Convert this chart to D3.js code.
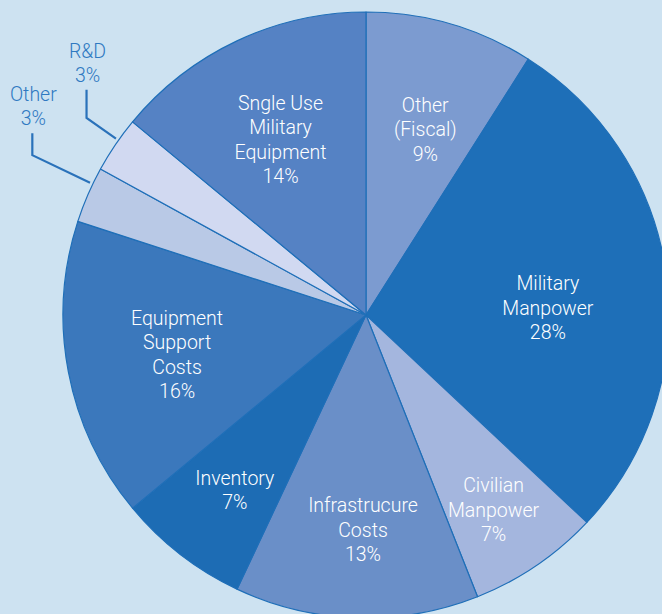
<!DOCTYPE html>
<html>
<head>
<meta charset="utf-8">
<script src="https://cdn.jsdelivr.net/npm/d3@7"></script>
<style>
  html, body { margin: 0; padding: 0; background: #cde2f1; }
  svg { display: block; }
  text { font-family: Roboto, "Liberation Sans", Arial, sans-serif; font-weight: 300; font-size: 19.5px; }
  .inner { fill: #ffffff; }
  .outer { fill: #2f79c1; }
</style>
</head>
<body>
<svg></svg>
<script>
// slices, clockwise from 12 o'clock
const labels = [
  ["Other", "(Fiscal)"],
  ["Military", "Manpower"],
  ["Civilian", "Manpower"],
  ["Infrastrucure", "Costs"],
  ["Inventory"],
  ["Equipment", "Support", "Costs"],
  ["Other"],
  ["R&D"],
  ["Sngle Use", "Military", "Equipment"]
]
const values = [9, 28, 7, 13, 7, 16, 3, 3, 14]
const colors = ["#7c9bd0", "#1e6fb8", "#a4b6de", "#6a8fc8", "#1d6cb4",
                "#3b78bc", "#b9c9e6", "#d1d9f1", "#5582c4"]

// label layout: distance from centre, angle nudge (deg), outside or not
const labelRadius = [195, 182, 233, 215, 219, 193, 370, 342, 195]
const labelShift = [1.5, 5, 1, -1, -1, -1, 2.2, 1, -0.8]
const outside = [false, false, false, false, false, false, true, true, false]
const leaderLen = [0, 0, 0, 0, 0, 0, 22, 28, 0]

const W = 662, H = 614
const cx = 366, cy = 315, R = 303
const lineH = 24.5

const svg = d3.select("svg")
    .attr("width", W)
    .attr("height", H)

const pie = d3.pie()
    .sort(null)
    .value(d => d)

const arc = d3.arc()
    .innerRadius(0)
    .outerRadius(R)

const arcs = pie(values)

const g = svg.append("g")
    .attr("transform", `translate(${cx},${cy})`)

g.selectAll("path.slice")
    .data(arcs)
    .enter()
    .append("path")
    .attr("class", "slice")
    .attr("d", arc)
    .style("fill", (d, i) => colors[i])
    .style("stroke", "#1f6fb8")
    .style("stroke-width", 1.2)
    .style("stroke-linejoin", "round")

const polar = (ang, r) => [r * Math.sin(ang), -r * Math.cos(ang)]
const midAngle = (d, i) => (d.startAngle + d.endAngle) / 2 + labelShift[i] * Math.PI / 180

arcs.forEach((d, i) => {
    const lines = labels[i].concat([values[i] + "%"])
    if (!outside[i]) {
        const [x, y] = polar(midAngle(d, i), labelRadius[i])
        const t = g.append("text")
            .attr("class", "inner")
            .attr("text-anchor", "middle")
        lines.forEach((s, k) => {
            t.append("tspan")
                .attr("x", x)
                .attr("y", y + (k - (lines.length - 1) / 2) * lineH)
                .attr("dy", "0.35em")
                .text(s)
        })
    } else {
        // outside label with elbow leader line
        const a = midAngle(d, i)
        const p0 = polar(a, R + 3)
        const p1 = polar(a, labelRadius[i])
        const p2 = [p1[0], p1[1] - leaderLen[i]]
        g.append("path")
            .attr("d", d3.line()([p0, p1, p2]))
            .style("fill", "none")
            .style("stroke", "#2a72ba")
            .style("stroke-width", 2.2)
        const t = g.append("text")
            .attr("class", "outer")
            .attr("text-anchor", "middle")
        lines.forEach((s, k) => {
            t.append("tspan")
                .attr("x", p2[0] + 1)
                .attr("y", p2[1] - 39 + k * lineH)
                .attr("dy", "0.35em")
                .text(s)
        })
    }
})
</script>
</body>
</html>
